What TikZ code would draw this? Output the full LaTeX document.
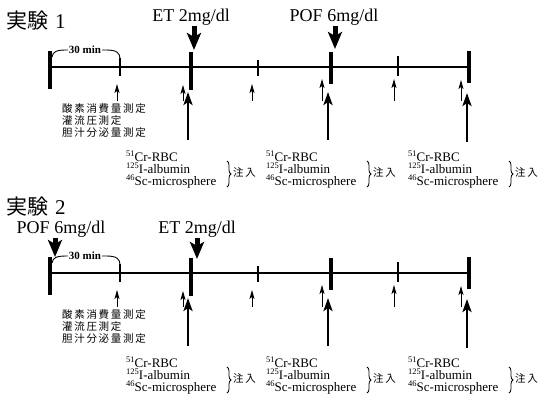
\documentclass[tikz,border=0pt]{standalone}
\usepackage{fontspec}
\setmainfont{Liberation Serif}
\newfontfamily\jpfont{Noto Sans CJK JP}
\newfontfamily\jpwide[LetterSpace=16]{Noto Sans CJK JP}
\usetikzlibrary{arrows.meta,decorations.pathreplacing}

% mass number set as a small raised figure
\newcommand\massno[1]{\raisebox{4.2pt}{\fontsize{8.5}{8.5}\selectfont #1}}

\tikzset{
  axisline/.style={line width=2.6pt},
  bigtick/.style={line width=3.4pt},
  smalltick/.style={line width=2pt},
  thinarr/.style={line width=0.9pt, -{Stealth[length=9pt,width=5pt,inset=2pt]}},
  thickarr/.style={line width=2.8pt, -{Stealth[length=13pt,width=9pt,inset=3pt]}},
  dosearr/.style={line width=5pt, -{Stealth[length=17pt,width=14pt,inset=4pt]}},
  titletext/.style={anchor=base west, inner sep=0pt, font=\fontsize{21}{21}\selectfont},
  dosetext/.style={anchor=base, inner sep=0pt, font=\fontsize{18}{18}\selectfont},
  meastext/.style={anchor=north west, inner sep=0pt, align=left,
                   font=\jpwide\fontsize{10.5}{12}\selectfont},
  isotext/.style={anchor=north west, inner sep=0pt, align=left,
                  font=\fontsize{13}{12}\selectfont},
  injtext/.style={anchor=west, inner sep=0pt, font=\jpwide\fontsize{10.5}{12}\selectfont},
  bracestyle/.style={decorate, decoration={brace, amplitude=4pt}, line width=0.8pt},
  mintext/.style={inner sep=1pt, font=\bfseries\fontsize{11}{11}\selectfont},
  minline/.style={line width=0.9pt},
}

% One experimental run: time axis, sampling arrows, measurements and injections
\newcommand\experimentrun[2]{%
\begin{scope}[yshift=#2]
  \coordinate (axL#1) at (50,67);
  \coordinate (axR#1) at (470,67);
  \draw[axisline] (axL#1) -- (axR#1);
  \foreach \x/\ya/\yb in {50/51/89, 191/52/90, 331/52/84, 469/51/83}
    {\draw[bigtick] (\x,\ya) -- (\x,\yb);}
  \foreach \x/\ya/\yb in {120/58/76, 258/60/76, 398/56/76}
    {\draw[smalltick] (\x,\ya) -- (\x,\yb);}
  % 30 min interval mark
  \node[mintext] (mn#1) at (85,50) {30 min};
  \coordinate (mnA#1) at (52,57);
  \coordinate (mnB#1) at (120,59);
  \draw[minline] (mnA#1) .. controls (53,51) and (57,50) .. (mn#1.west);
  \draw[minline] (mn#1.east) -- ++(4,0) .. controls (117,50) and (120,53) .. (mnB#1);
  % sampling arrows
  \foreach \x/\tip [count=\i] in {117/84, 183/85, 252/84, 322/79, 394/79, 461/80}
    {\coordinate (ts\i#1) at (\x,101);
     \coordinate (te\i#1) at (\x,\tip);
     \draw[thinarr] (ts\i#1) -- (te\i#1);}
  % injection arrows
  \foreach \x/\tip/\bot [count=\i] in {188/92/140, 328/92/140, 467/93/142}
    {\coordinate (js\i#1) at (\x,\bot);
     \coordinate (je\i#1) at (\x,\tip);
     \draw[thickarr] (js\i#1) -- (je\i#1);}
  % measurements
  \node[meastext] (meas#1) at (62,103)
    {酸素消費量測定\\灌流圧測定\\胆汁分泌量測定};
  % injected tracers
  \foreach \bx [count=\i] in {126, 266, 408}
    {\node[isotext] (tr\i#1) at (\bx,151)
       {\massno{51}Cr-RBC\\\massno{125}I-albumin\\\massno{46}Sc-microsphere};
     \coordinate (bt\i#1) at (\bx+101,161);
     \coordinate (bb\i#1) at (\bx+101,187);
     \draw[bracestyle] (bt\i#1) -- (bb\i#1);
     \node[injtext] (in\i#1) at (\bx+107,172) {注入};}
\end{scope}}

\begin{document}
\begin{tikzpicture}[x=1pt, y=-1pt]
  \fill[white] (0,0) rectangle (539,401);
  \useasboundingbox (0,0) rectangle (539,401);

  % Experiment 1
  \node[titletext] (title1) at (6,29) {{\jpfont 実験}\hspace{7pt}1};
  \node[dosetext] (et1) at (191,22) {ET 2mg/dl};
  \coordinate (et1s) at (194,26);
  \coordinate (et1e) at (194,50);
  \draw[dosearr] (et1s) -- (et1e);
  \node[dosetext] (pof1) at (334,22) {POF 6mg/dl};
  \coordinate (pof1s) at (335,26);
  \coordinate (pof1e) at (335,49);
  \draw[dosearr] (pof1s) -- (pof1e);
  \experimentrun{a}{0pt}

  % Experiment 2
  \node[titletext] (title2) at (6,215) {{\jpfont 実験}\hspace{7pt}2};
  \node[dosetext] (pof2) at (61,234) {POF 6mg/dl};
  \coordinate (pof2s) at (55,238);
  \coordinate (pof2e) at (55,257);
  \draw[dosearr] (pof2s) -- (pof2e);
  \node[dosetext] (et2) at (197,234) {ET 2mg/dl};
  \coordinate (et2s) at (197,238);
  \coordinate (et2e) at (197,259);
  \draw[dosearr] (et2s) -- (et2e);
  \experimentrun{b}{-206pt}
\end{tikzpicture}
\end{document}
